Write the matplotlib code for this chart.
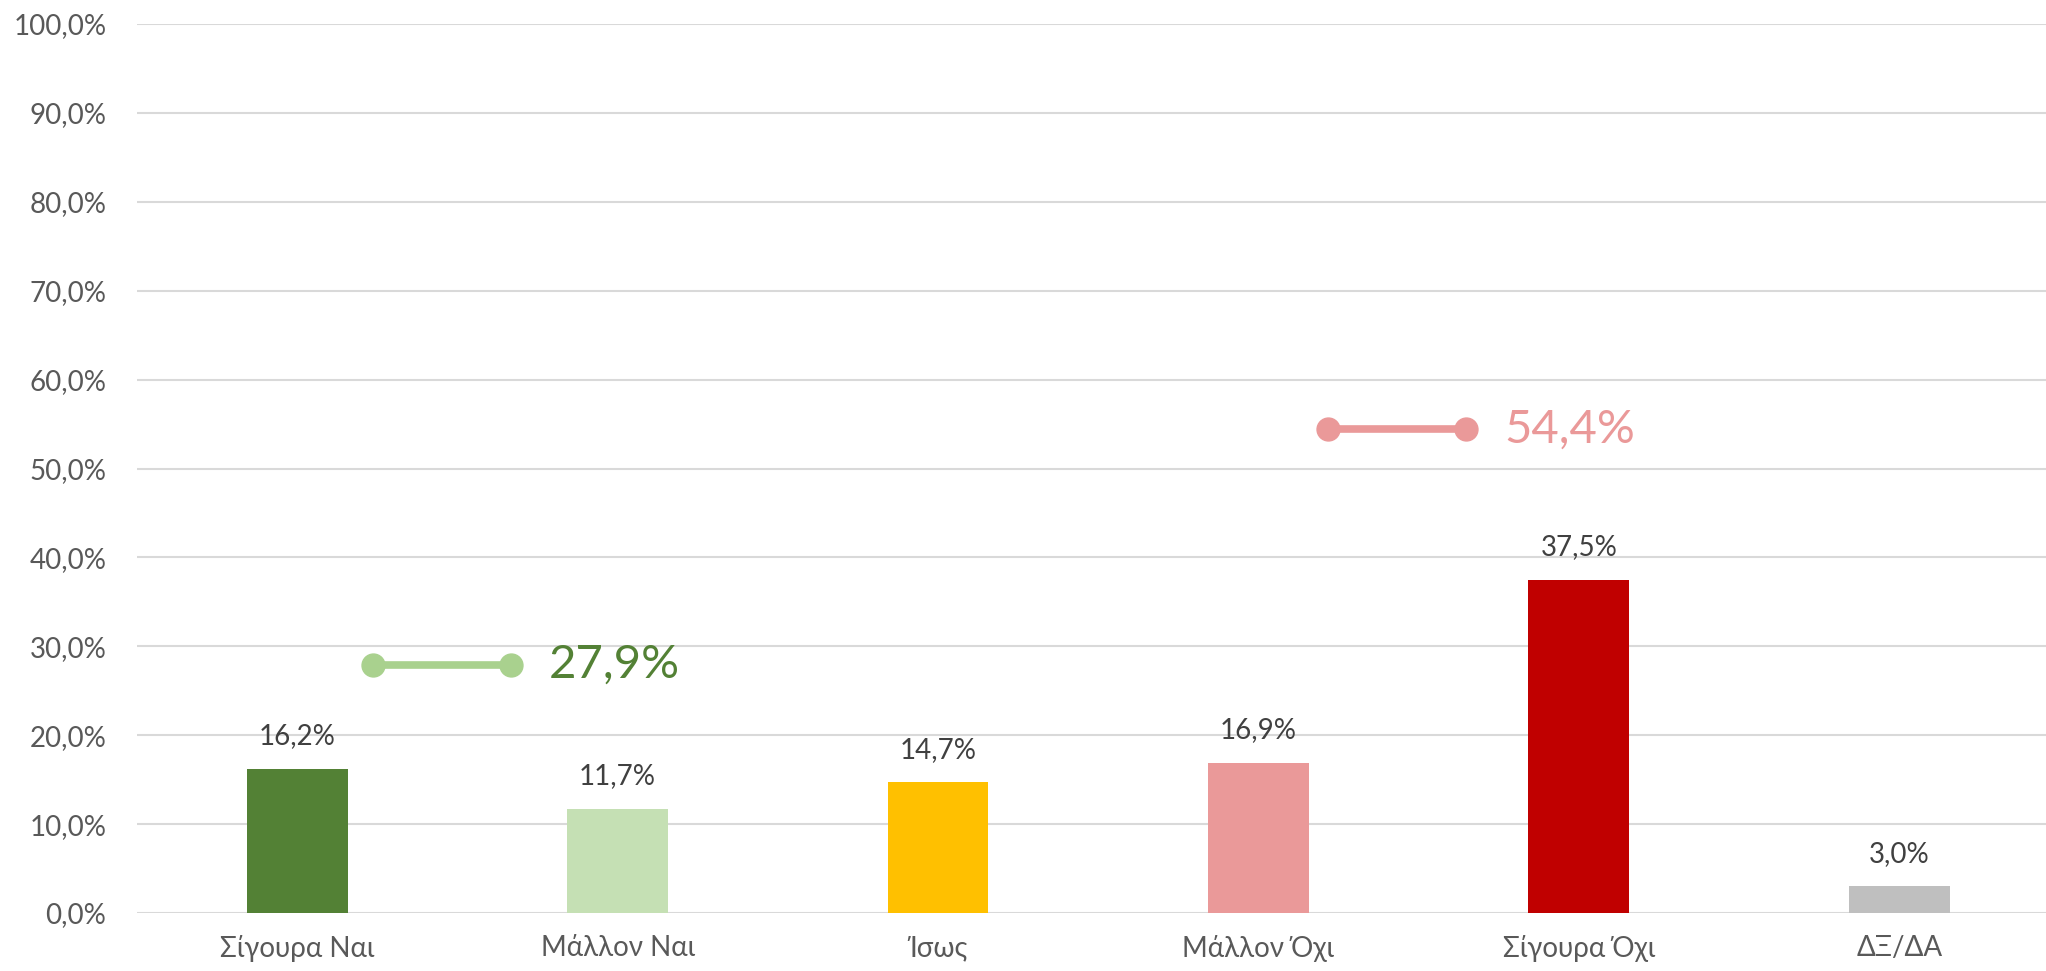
import matplotlib.pyplot as plt

# Bar data
categories = ['Σίγουρα Ναι', 'Μάλλον Ναι', 'Ίσως', 'Μάλλον Όχι', 'Σίγουρα Όχι', 'ΔΞ/ΔΑ']
values = [16.2, 11.7, 14.7, 16.9, 37.5, 3.0]
bar_colors = ['#538135', '#C5E0B4', '#FFC000', '#EA9999', '#C00000', '#BFBFBF']

# Summary lines (yes total / no total)
yes_total = 27.9
no_total = 54.4
yes_x = [0.236, 0.666]
no_x = [3.216, 3.647]

yticks = list(range(0, 101, 10))

plt.rcParams['font.family'] = ['Lato', 'DejaVu Sans']

fig = plt.figure(figsize=(20.46, 9.71), dpi=100)
ax = fig.add_axes([137 / 2046, 1 - 913 / 971, (2046 - 137) / 2046, 889 / 971])

x = range(len(categories))
ax.bar(x, values, width=0.315, color=bar_colors, zorder=3)

for i, v in enumerate(values):
    ax.annotate(f'{v:.1f}%'.replace('.', ','), (i, v), xytext=(0, 14), textcoords='offset points',
                ha='center', va='bottom', fontsize=20, color='#404040', zorder=4)

ax.plot(yes_x, [yes_total, yes_total], color='#A9D18E', lw=5.5, marker='o', ms=16.5, zorder=4)
ax.plot(no_x, [no_total, no_total], color='#EA9999', lw=5.5, marker='o', ms=16.5, zorder=4)
ax.text(yes_x[1] + 0.12, yes_total, f'{yes_total:.1f}%'.replace('.', ','), fontsize=34,
        color='#538135', va='center', ha='left')
ax.text(no_x[1] + 0.12, no_total, f'{no_total:.1f}%'.replace('.', ','), fontsize=34,
        color='#EA9999', va='center', ha='left')

ax.set_xlim(-0.5, -0.5 + (2046 - 137) / 320.4)
ax.set_ylim(0, 100)
ax.set_yticks(yticks)
ax.set_yticklabels([f'{t:.1f}%'.replace('.', ',') for t in yticks])
ax.set_xticks(list(x))
ax.set_xticklabels(categories)
ax.tick_params(axis='y', length=0, pad=22, labelsize=20, labelcolor='#595959')
ax.tick_params(axis='x', length=0, pad=16, labelsize=20, labelcolor='#595959')
ax.grid(axis='y', color='#D9D9D9', lw=1.5, zorder=0)
for s in ax.spines.values():
    s.set_visible(False)

fig.savefig('out.png', dpi=100)
